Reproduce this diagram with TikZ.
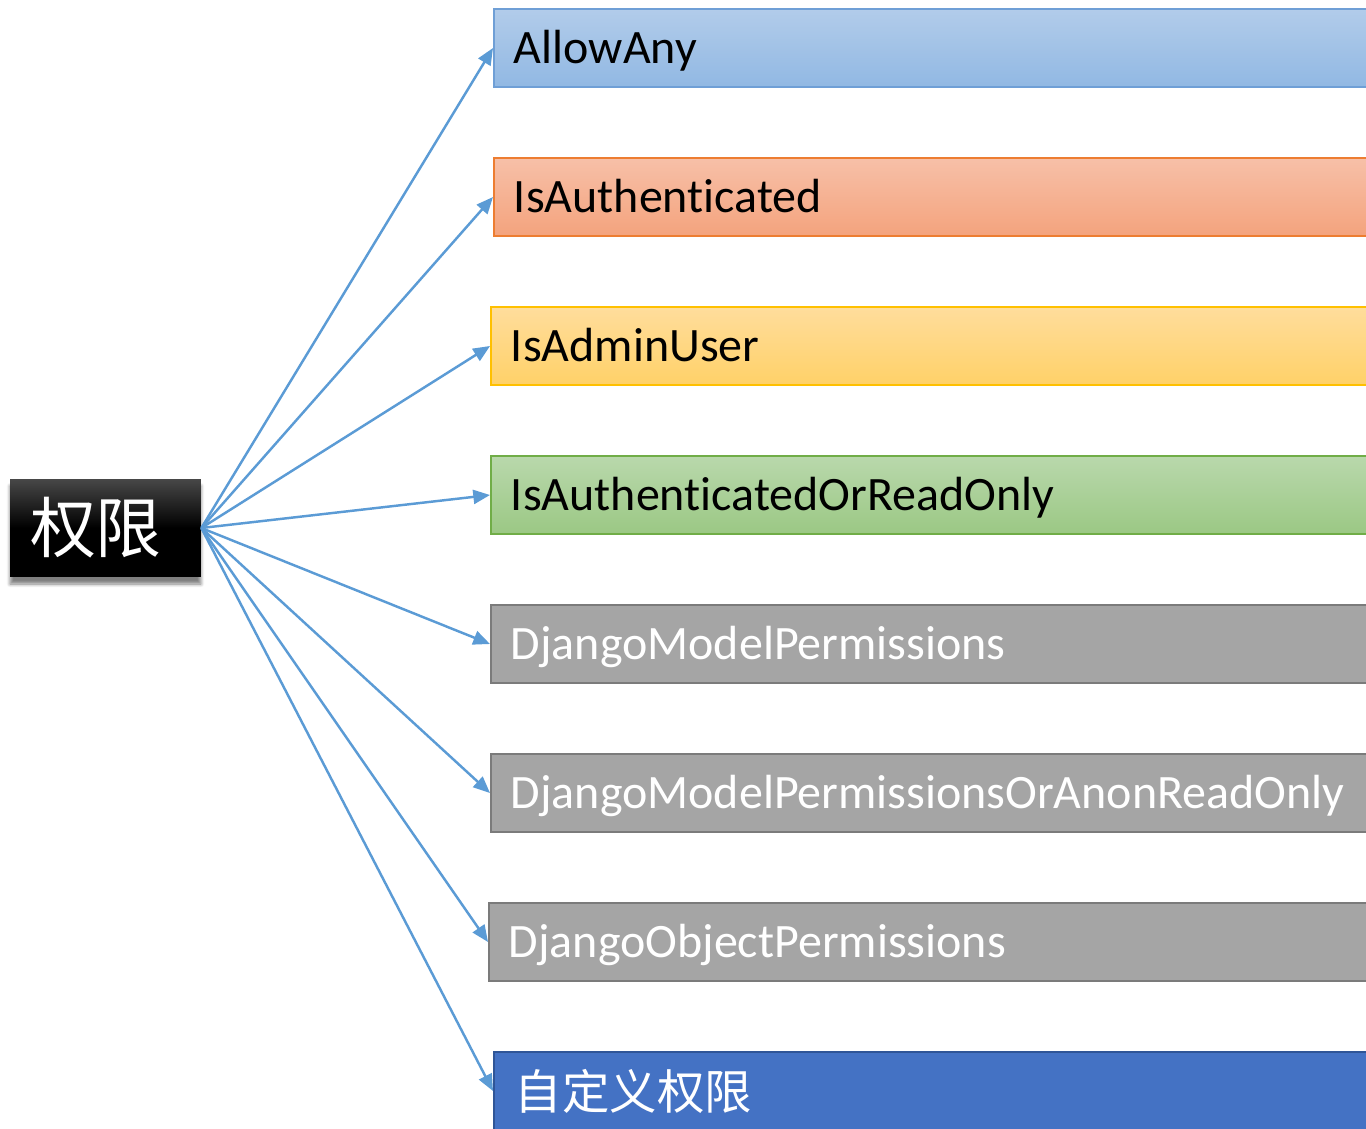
\documentclass[tikz,border=0pt]{standalone}
\usepackage{fontspec}
\setmainfont[Ligatures=NoCommon]{Carlito}
\newfontfamily\cjk{Noto Sans CJK SC}
\usetikzlibrary{arrows.meta,shadows.blur}
\definecolor{arrblue}{HTML}{5B9BD5}
\definecolor{bAdraw}{HTML}{6F9FD6}\definecolor{bAtop}{HTML}{B2CCEA}\definecolor{bAbot}{HTML}{91B8E3}
\definecolor{bBdraw}{HTML}{ED7D31}\definecolor{bBtop}{HTML}{F7C0A8}\definecolor{bBbot}{HTML}{F4A37D}
\definecolor{bCdraw}{HTML}{FFC000}\definecolor{bCtop}{HTML}{FFDD9C}\definecolor{bCbot}{HTML}{FFD168}
\definecolor{bDdraw}{HTML}{70AD47}\definecolor{bDtop}{HTML}{B9D8AC}\definecolor{bDbot}{HTML}{9BC884}
\definecolor{gdraw}{HTML}{7B7B7B}\definecolor{gfill}{HTML}{A5A5A5}
\definecolor{ddraw}{HTML}{2F5597}\definecolor{dfill}{HTML}{4472C4}
\tikzset{
  arr/.style={draw=arrblue, line width=1.4pt, -{Triangle[length=9.5pt,width=8pt]}},
  permbox/.style={rectangle, anchor=west, minimum height=1.56cm, minimum width=18.2cm,
    text width=17.4cm, inner xsep=0.4cm, inner ysep=0pt, align=left, line width=1.1pt,
    text height=0.63cm, text depth=0pt,
    font=\fontsize{27.3}{30}\selectfont},
}
\begin{document}
\begin{tikzpicture}[x=0.02cm,y=-0.02cm]
\useasboundingbox (0,0) rectangle (1366,1129);
\clip (0,0) rectangle (1366,1129);
\node[rectangle, minimum width=3.82cm, minimum height=1.96cm, inner sep=0pt,
  text width=3.02cm, align=left,
  top color=black!72, bottom color=black, middle color=black, text=white,
  blur shadow={shadow xshift=0pt, shadow yshift=-4pt, shadow blur steps=6, shadow opacity=50},
  font=\cjk\fontsize{37.5}{40}\selectfont] (root) at (105.5,528) {权限};
\node[permbox, draw=bAdraw, top color=bAtop, bottom color=bAbot] (b1) at (493,48) {AllowAny};
\node[permbox, draw=bBdraw, top color=bBtop, bottom color=bBbot] (b2) at (493,197) {IsAuthenticated};
\node[permbox, draw=bCdraw, top color=bCtop, bottom color=bCbot] (b3) at (490,346) {IsAdminUser};
\node[permbox, draw=bDdraw, top color=bDtop, bottom color=bDbot] (b4) at (490,495) {IsAuthenticatedOrReadOnly};
\node[permbox, draw=gdraw, fill=gfill, text=white] (b5) at (490,644) {DjangoModelPermissions};
\node[permbox, draw=gdraw, fill=gfill, text=white] (b6) at (490,793) {DjangoModelPermissionsOrAnonReadOnly};
\node[permbox, draw=gdraw, fill=gfill, text=white] (b7) at (488,942) {DjangoObjectPermissions};
\node[permbox, draw=ddraw, fill=dfill, text=white, text height=0.72cm,
  font=\cjk\fontsize{27}{28}\selectfont] (b8) at (493,1091) {\hspace{0.02cm}自定义权限};
\foreach \b in {b1,b2,b3,b4,b5,b6,b7,b8}
  \draw[arr] (root.east) -- (\b.west);
\end{tikzpicture}
\end{document}
